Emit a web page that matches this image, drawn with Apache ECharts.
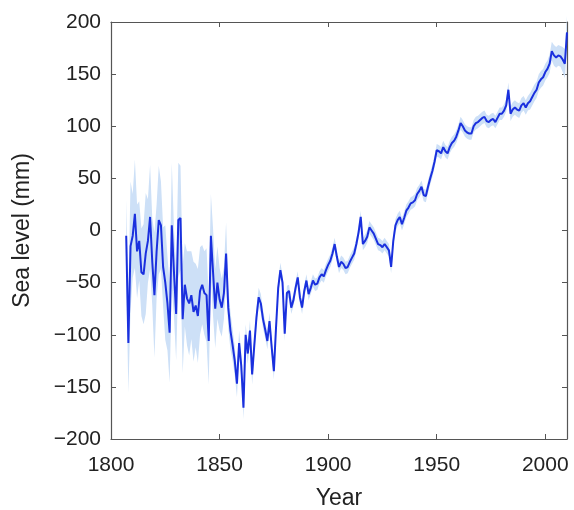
<!DOCTYPE html>
<html lang="en" style="height: 100%">
<head>
  <meta charset="utf-8">
</head>
<body style="height: 100%; margin: 0; background-color:#ffffff;">
  <div id="container" style="width: 574px; height: 510px"></div>

<script src="https://cdn.jsdelivr.net/npm/echarts@6/dist/echarts.min.js"></script>

<script>
  var dom = document.getElementById('container');
  var myChart = echarts.init(dom);

  var startYear = 1807;
  var xTicks = [1800, 1850, 1900, 1950, 2000];
  var yTicks = [-200, -150, -100, -50, 0, 50, 100, 150, 200];

  // sea level (mm), one value per year from 1807
  var seaLevel = [
    -5, -108, -15, -5, 16, -20, -10, -40, -42, -22, -10, 13, -30,          // 1807-1819
    -62, -20, 10, 5, -35, -50, -70, -98, 5, -40,                          // 1820s
    -80, 10, 12, -85, -52, -65, -70, -62, -78, -72,                       // 1830s
    -82, -58, -52, -60, -62, -106, -5, -40, -75, -50,                     // 1840s
    -66, -74, -60, -22, -74, -96, -110, -125, -147, -108,                 // 1850s
    -130, -170, -100, -118, -96, -138, -110, -83, -64, -70,               // 1860s
    -85, -95, -106, -87, -112, -135, -93, -55, -38, -50,                  // 1870s
    -99, -60, -58, -74, -67, -55, -45, -64, -74, -58,                     // 1880s
    -48, -61, -55, -48, -52, -51, -45, -42, -44, -38,                     // 1890s
    -33, -29, -22, -13, -25, -35, -30, -32, -36, -35,                     // 1900s
    -30, -26, -22, -13, -2, 13, -13, -10, -6, 3,                          // 1910s
    0, -3, -8, -13, -14, -16, -13, -16, -19, -35,                         // 1920s
    -10, 5, 10, 13, 6, 12, 19, 22, 26, 27,                                // 1930s
    29, 35, 38, 42, 34, 33, 42, 50, 57, 66,                               // 1940s
    77, 76, 74, 80, 76, 74, 80, 84, 86, 90,                               // 1950s
    96, 103, 100, 96, 94, 93, 93, 100, 103, 104,                          // 1960s
    106, 108, 109, 105, 104, 106, 107, 104, 108, 112,                     // 1970s
    112, 115, 120, 135, 112, 116, 118, 116, 115, 120,                     // 1980s
    122, 118, 122, 124, 128, 132, 135, 142, 145, 147,                     // 1990s
    152, 155, 160, 172, 168, 166, 168, 167, 164, 160,                     // 2000s
    190                                                                   // 2010
  ];

  // half width of the uncertainty band (mm)
  var uncertainty = [
    35, 48, 62, 40, 52, 45, 38, 42, 48, 58, 40, 50, 42,                   // 1807-1819
    60, 45, 52, 42, 38, 55, 45, 48, 60, 42,                               // 1820s
    45, 55, 50, 52, 40, 45, 50, 42, 48, 40,                               // 1830s
    45, 42, 38, 40, 45, 42, 40, 42, 38, 35,                               // 1840s
    30, 28, 25, 30, 20, 18, 15, 14, 13, 12,                               // 1850s
    12, 11, 10, 10, 10, 10, 9, 9, 9, 9,                                   // 1860s
    9, 8, 8, 8, 8, 8, 8, 7, 7, 7,                                         // 1870s
    7, 7, 6, 6, 6, 6, 6, 6, 6, 6,                                         // 1880s
    6, 6, 6, 6, 6, 6, 6, 6, 6, 6,                                         // 1890s
    6, 6, 6, 6, 6, 6, 6, 6, 6, 6,                                         // 1900s
    6, 6, 6, 6, 6, 6, 6, 6, 6, 6,                                         // 1910s
    6, 6, 6, 6, 6, 6, 6, 6, 6, 6,                                         // 1920s
    6, 6, 6, 6, 6, 6, 6, 6, 6, 6,                                         // 1930s
    6, 6, 6, 6, 6, 6, 6, 6, 6, 6,                                         // 1940s
    6, 6, 6, 6, 6, 6, 6, 6, 6, 6,                                         // 1950s
    6, 6, 6, 6, 6, 6, 6, 6, 6, 6,                                         // 1960s
    6, 6, 6, 6, 6, 6, 6, 6, 6, 6,                                         // 1970s
    6, 6, 6, 7, 7, 7, 7, 7, 7, 7,                                         // 1980s
    7, 7, 7, 8, 8, 8, 8, 8, 8, 8,                                         // 1990s
    8, 8, 9, 9, 10, 10, 10, 10, 12, 14,                                   // 2000s
    16                                                                    // 2010
  ];

  var lineData = seaLevel.map((v, i) => [startYear + i, v]);

  var font = 'Liberation Sans, Arial, sans-serif';
  var axisColor = '#555';

  var xBase = {
    type: 'value',
    min: 1800,
    max: 2010,
    interval: 50,
    axisLine: { onZero: false, lineStyle: { color: axisColor, width: 1.2 } },
    axisTick: { inside: true, length: 5, lineStyle: { color: axisColor } },
    splitLine: { show: false }
  };
  var yBase = {
    type: 'value',
    min: -200,
    max: 200,
    interval: 50,
    axisLine: { onZero: false, lineStyle: { color: axisColor, width: 1.2 } },
    axisTick: { inside: true, length: 5, lineStyle: { color: axisColor } },
    splitLine: { show: false }
  };

  // uncertainty band as one polygon, upper edge forward then lower edge back
  function renderBand(params, api) {
    var upper = [];
    var lower = [];
    for (var i = 0; i < seaLevel.length; i++) {
      upper.push(api.coord([startYear + i, seaLevel[i] + uncertainty[i]]));
      lower.unshift(api.coord([startYear + i, seaLevel[i] - uncertainty[i]]));
    }
    return {
      type: 'polygon',
      shape: { points: upper.concat(lower) },
      style: { fill: '#cde0f7' }
    };
  }

  var option = {
    animation: false,
    grid: { left: 111, right: 7, top: 22, bottom: 71, outerBoundsMode: 'none', containLabel: false },
    xAxis: [
      Object.assign({}, xBase, {
        position: 'bottom',
        name: 'Year',
        nameLocation: 'middle',
        nameGap: 48,
        nameTextStyle: { fontFamily: font, fontSize: 23, color: '#222' },
        axisLabel: {
          margin: 16, fontFamily: font, fontSize: 21, color: '#222',
          formatter: v => xTicks.indexOf(v) >= 0 ? String(v) : ''
        }
      }),
      Object.assign({}, xBase, { position: 'top', axisLabel: { show: false } })
    ],
    yAxis: [
      Object.assign({}, yBase, {
        position: 'left',
        name: 'Sea level (mm)',
        nameLocation: 'middle',
        nameGap: 77,
        nameTextStyle: { fontFamily: font, fontSize: 23, color: '#222' },
        axisLabel: {
          margin: 10, fontFamily: font, fontSize: 21, color: '#222',
          formatter: v => yTicks.indexOf(v) >= 0 ? String(v).replace('-', '\u2212') : ''
        }
      }),
      Object.assign({}, yBase, { position: 'right', axisLabel: { show: false } })
    ],
    series: [
      {
        type: 'custom',
        data: [[startYear, seaLevel[0]]],
        renderItem: renderBand,
        silent: true,
        z: 1
      },
      {
        type: 'line',
        data: lineData,
        symbol: 'none',
        lineStyle: { color: '#1a30de', width: 2 },
        z: 2
      }
    ]
  };

  myChart.setOption(option);

  window.addEventListener('resize', myChart.resize);
</script>

</body>
</html>
